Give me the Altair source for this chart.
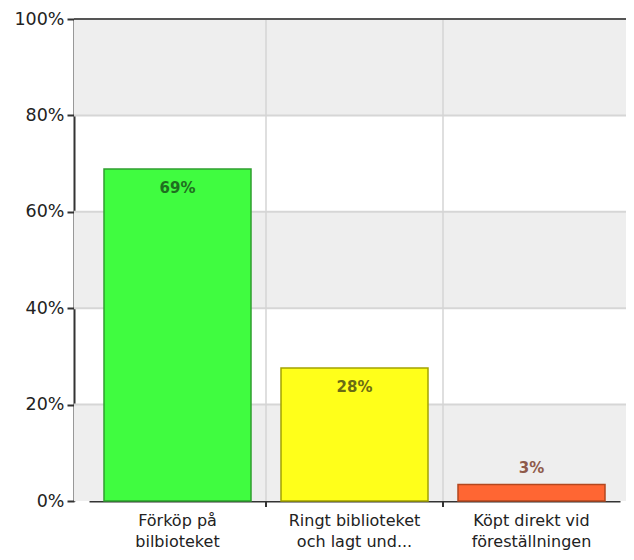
import altair as alt
import pandas as pd

categories = ["Förköp på|bilbioteket", "Ringt biblioteket|och lagt und...", "Köpt direkt vid|föreställningen"]
values = [68.9, 27.6, 3.4]
value_labels = ["69%", "28%", "3%"]
bar_fill = ["#40fc40", "#ffff1a", "#ff6633"]
bar_stroke = ["#2f9e2f", "#a3a300", "#b3471f"]
label_color = ["#1f6f1f", "#6b6b14", "#8f5a4a"]
y_ticks = [0, 20, 40, 60, 80, 100]
band_lo = [0, 40, 80]
band_hi = [20, 60, 100]
grid_vals = [20, 40, 60, 80]

W, H = 552, 482
FONT = "DejaVu Sans"

df = pd.DataFrame({"cat": categories, "val": values, "lab": value_labels,
                   "fill": bar_fill, "stroke": bar_stroke, "lcol": label_color})
bands = pd.DataFrame({"lo": band_lo, "hi": band_hi})
grid = pd.DataFrame({"g": grid_vals})
seps = pd.DataFrame({"cat": categories[1:]})
top = pd.DataFrame({"t": [100]})

xscale = alt.Scale(domain=categories, range=[15, 546], paddingInner=0, paddingOuter=0)
yscale = alt.Scale(domain=[0, 100], nice=False)

xaxis = alt.Axis(labelAngle=0, labelExpr="split(datum.value, '|')", ticks=False,
                 domainColor="#333333", domainWidth=2, labelFont=FONT,
                 labelFontSize=16, labelLineHeight=21, labelPadding=11,
                 labelColor="#222222", grid=False, title=None)
yaxis = alt.Axis(values=y_ticks, labelExpr="datum.value + '%'", grid=False,
                 domainColor="#333333", domainWidth=2, tickColor="#333333",
                 tickWidth=2, tickSize=7, labelFont=FONT, labelFontSize=17.5,
                 labelColor="#222222", labelPadding=3, title=None)

bg = alt.Chart(bands).mark_rect(color="#eeeeee").encode(
    x=alt.value(0), x2=alt.value(W),
    y=alt.Y("lo:Q", scale=yscale, axis=yaxis), y2="hi:Q")

hgrid = alt.Chart(grid).mark_rule(color="#d6d6d6", strokeWidth=2).encode(
    y=alt.Y("g:Q", scale=yscale, axis=yaxis))

vgrid = alt.Chart(seps).mark_rule(color="#d4d4d4", strokeWidth=1.5).encode(
    x=alt.X("cat:N", scale=xscale, bandPosition=0, axis=xaxis))

bars = alt.Chart(df).mark_bar(width=147, strokeWidth=1.5).encode(
    x=alt.X("cat:N", scale=xscale, axis=xaxis),
    y=alt.Y("val:Q", scale=yscale, axis=yaxis),
    fill=alt.Fill("fill:N", scale=None),
    stroke=alt.Stroke("stroke:N", scale=None))

txt_in = alt.Chart(df).transform_filter("datum.val > 10").mark_text(
    dy=19, font=FONT, fontSize=15, fontWeight="bold", baseline="middle").encode(
    x=alt.X("cat:N", scale=xscale, axis=xaxis), y=alt.Y("val:Q", scale=yscale, axis=yaxis),
    text="lab:N", color=alt.Color("lcol:N", scale=None))

txt_out = alt.Chart(df).transform_filter("datum.val <= 10").mark_text(
    dy=-17, font=FONT, fontSize=15, fontWeight="bold", baseline="middle").encode(
    x=alt.X("cat:N", scale=xscale, axis=xaxis), y=alt.Y("val:Q", scale=yscale, axis=yaxis),
    text="lab:N", color=alt.Color("lcol:N", scale=None))

top_rule = alt.Chart(top).mark_rule(color="#555555", strokeWidth=2).encode(
    y=alt.Y("t:Q", scale=yscale, axis=yaxis))

xticks = alt.Chart(seps).mark_rule(color="#333333", strokeWidth=2).encode(
    x=alt.X("cat:N", scale=xscale, bandPosition=0, axis=xaxis),
    y=alt.value(H), y2=alt.value(H + 6))

chart = alt.layer(bg, hgrid, vgrid, bars, txt_in, txt_out, top_rule, xticks).properties(
    width=W, height=H, autosize="none",
    padding={"left": 66, "top": 11, "right": 0, "bottom": 50}
).configure_view(stroke=None)

chart.save("out.html", embed_options={"renderer": "svg", "actions": False})
